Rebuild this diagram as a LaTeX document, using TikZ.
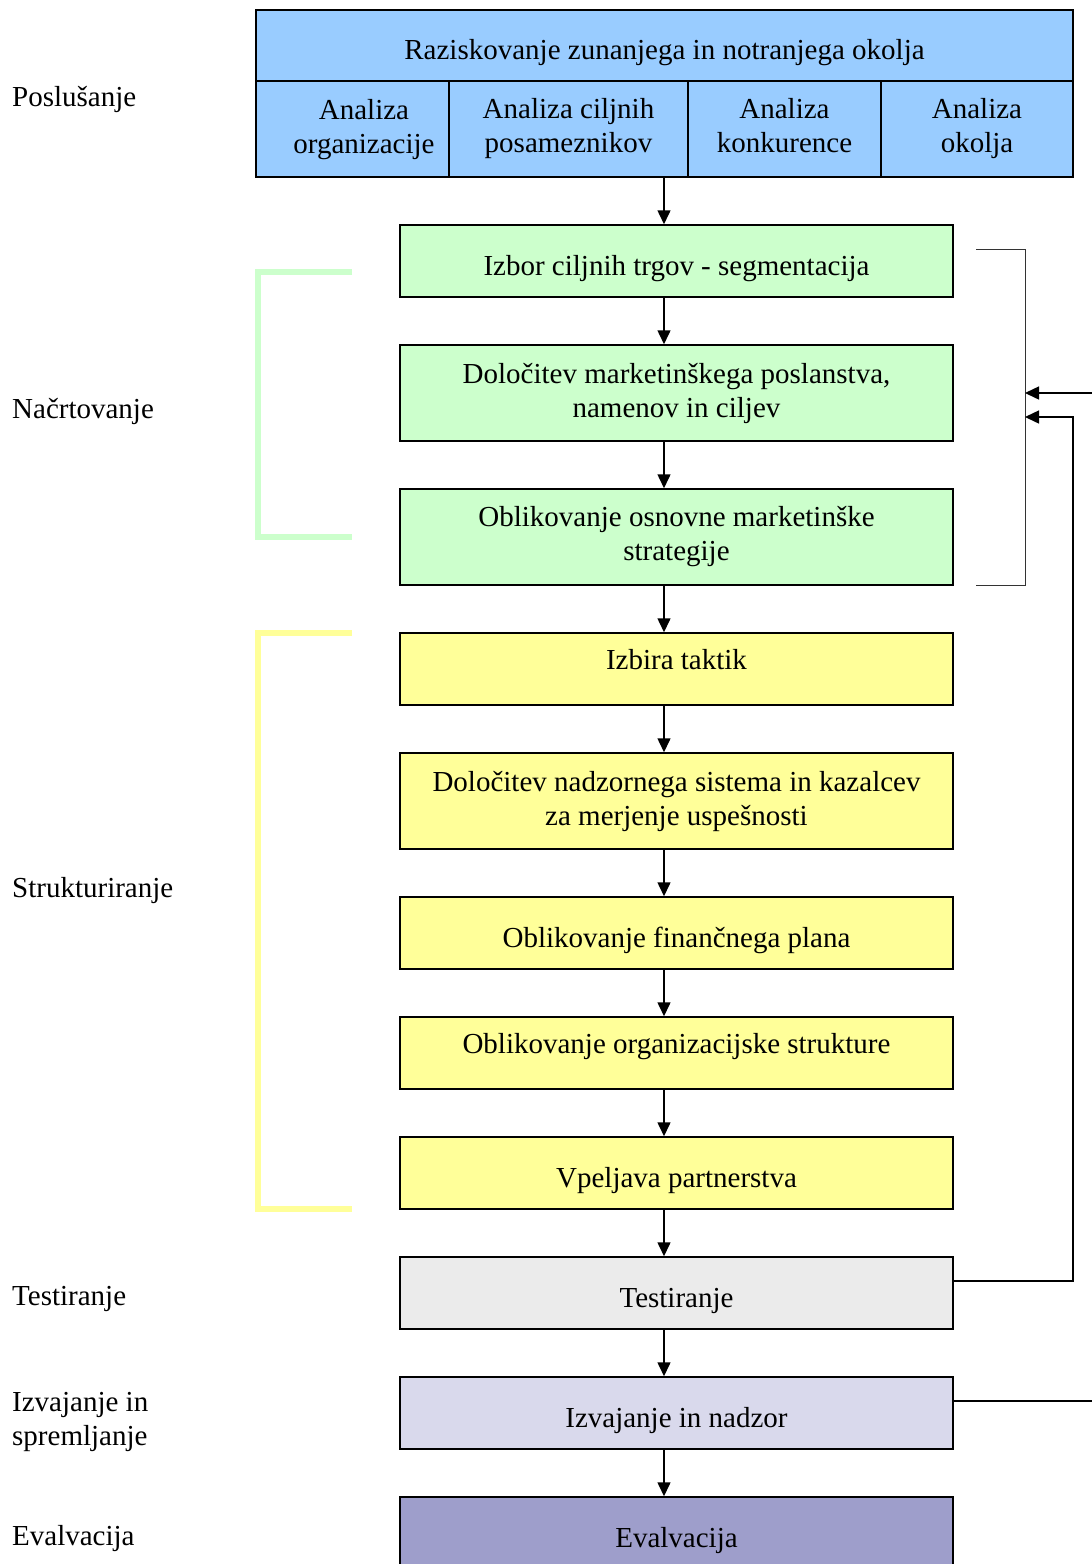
\documentclass[tikz,border=0pt]{standalone}
\usepackage{fontspec}
\setmainfont{Liberation Serif}
\usetikzlibrary{arrows.meta}
\definecolor{researchblue}{HTML}{99CCFF}
\definecolor{plangreen}{HTML}{CCFFCC}
\definecolor{structyellow}{HTML}{FFFF99}
\definecolor{testgray}{HTML}{EBEBEB}
\definecolor{runlilac}{HTML}{D9D9EC}
\definecolor{evallilac}{HTML}{9E9ECB}
\tikzset{
  stage/.style={draw, line width=1.5pt, minimum width=553pt, minimum height=72pt,
    inner sep=0pt, align=center, font=\fontsize{29}{34}\selectfont},
  column/.style={stage, fill=researchblue, minimum height=96pt, text depth=7pt},
  lowtext/.style={text height=30pt, text depth=2pt},
  hightext/.style={text height=14pt, text depth=14pt},
  phase/.style={anchor=west, align=left, inner sep=0pt, font=\fontsize{29}{34}\selectfont},
  flow/.style={-{Triangle[length=14pt,width=13pt]}, line width=1.5pt},
}
\begin{document}
\begin{tikzpicture}[x=1pt, y=-1pt]
    \useasboundingbox (0,0) rectangle (1092,1564);
    \clip (0,0) rectangle (1092,1564);
    % research block
    \node[stage, lowtext, fill=researchblue, minimum width=817pt, minimum height=71pt] (raz) at (664.5,45.5) {Raziskovanje zunanjega in notranjega okolja};
    \node[column, minimum width=193pt] (aorg) at (352.5,129) {};
    \node[align=center, inner sep=0pt, text depth=7pt, font=\fontsize{29}{34}\selectfont] (aorgtext) at (364,130) {Analiza\\organizacije};
    \node[column, minimum width=239pt] (aclj) at (568.5,129) {Analiza ciljnih\\posameznikov};
    \node[column, minimum width=193pt] (akon) at (784.5,129) {Analiza\\konkurence};
    \node[column, minimum width=192pt] (aokl) at (977,129) {Analiza\\okolja};
    % planning
    \node[stage, lowtext, fill=plangreen] (seg) at (676.5,261) {Izbor ciljnih trgov - segmentacija};
    \node[stage, fill=plangreen, minimum height=96pt] (posl) at (676.5,393) {Določitev marketinškega poslanstva,\\namenov in ciljev};
    \node[stage, fill=plangreen, minimum height=96pt] (strat) at (676.5,537) {Oblikovanje osnovne marketinške\\strategije};
    % structuring
    \node[stage, hightext, fill=structyellow] (takt) at (676.5,669) {Izbira taktik};
    \node[stage, fill=structyellow, minimum height=96pt] (nadz) at (676.5,801) {Določitev nadzornega sistema in kazalcev\\za merjenje uspešnosti};
    \node[stage, lowtext, fill=structyellow] (fin) at (676.5,933) {Oblikovanje finančnega plana};
    \node[stage, hightext, fill=structyellow] (org) at (676.5,1053) {Oblikovanje organizacijske strukture};
    \node[stage, lowtext, fill=structyellow] (part) at (676.5,1173) {Vpeljava partnerstva};
    % testing, running, evaluation
    \node[stage, lowtext, fill=testgray] (test) at (676.5,1293) {Testiranje};
    \node[stage, lowtext, fill=runlilac] (izv) at (676.5,1413) {Izvajanje in nadzor};
    \node[stage, lowtext, fill=evallilac] (eval) at (676.5,1533) {Evalvacija};
    % phase labels
    \node[phase] (lposl) at (12,99) {Poslušanje};
    \node[phase] (lnacr) at (12,411) {Načrtovanje};
    \node[phase] (lstru) at (12,891) {Strukturiranje};
    \node[phase] (ltest) at (12,1299) {Testiranje};
    \node[phase] (lizv) at (12,1422) {Izvajanje in\\spremljanje};
    \node[phase] (leval) at (12,1539) {Evalvacija};
    % brackets
    \draw[plangreen, line width=6pt] (352,272) -- (258,272) -- (258,537) -- (352,537);
    \draw[structyellow, line width=6pt] (352,633) -- (258,633) -- (258,1209) -- (352,1209);
    \draw[line width=1pt, black!80] (976,249) -- (1025,249) -- (1025,585) -- (976,585);
    \coordinate (fbin) at (1025,393);
    \coordinate (fbtest) at (1025,417);
    % flow
    \draw[flow] ([xshift=-12.5pt]seg.north |- aclj.south) -- ([xshift=-12.5pt]seg.north);
    \foreach \a/\b in {seg/posl, posl/strat, strat/takt, takt/nadz, nadz/fin, fin/org, org/part, part/test, test/izv, izv/eval}
        \draw[flow] ([xshift=-12.5pt]\a.south) -- ([xshift=-12.5pt]\b.north);
    % feedback
    \draw[flow] ([yshift=12pt]test.east) -| ([xshift=48pt]fbtest) -- (fbtest);
    \draw[flow] ([yshift=12pt]izv.east) -| ([xshift=85pt]fbin) -- (fbin);
\end{tikzpicture}
\end{document}
